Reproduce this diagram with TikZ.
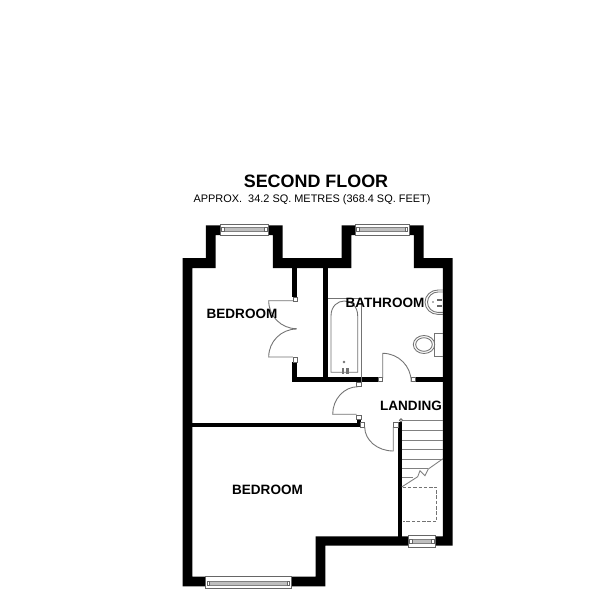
\documentclass[tikz,border=0pt]{standalone}
\usepackage{fontspec}
\setmainfont{Liberation Sans}
\tikzset{
  x=0.02cm,y=-0.02cm,
  wall/.style={fill=black,draw=none},
  fix/.style={draw=black!55,line width=0.5pt,fill=none},
  jamb/.style={draw=black!60,line width=0.45pt,fill=white},
  winframe/.style={draw=black!60,line width=0.45pt,fill=white},
  winband/.style={draw=black!50,line width=0.3pt,fill=black!25},
  tread/.style={draw=black!50,line width=0.5pt},
  room/.style={font=\bfseries\fontsize{7.7pt}{9pt}\selectfont,text=black,inner sep=0pt},
  title/.style={font=\bfseries\fontsize{10.2pt}{12pt}\selectfont,text=black,inner sep=0pt},
  sub/.style={font=\fontsize{6.22pt}{8pt}\selectfont,text=black,inner sep=0pt},
}
\begin{document}
\begin{tikzpicture}
\useasboundingbox (0,0) rectangle (600,600);
\fill[white] (0,0) rectangle (600,600);
% outer walls
\fill[wall,even odd rule]
 (182.7,258)--(206,258)--(206,225.3)--(282.7,225.3)--(282.7,258)--(341.7,258)--(341.7,225.3)--(423.7,225.3)--(423.7,258)--(452.7,258)--(452.7,545.7)--(325.3,545.7)--(325.3,586.3)--(182.7,586.3)--cycle
 (192.3,268)--(215.7,268)--(215.7,235)--(273,235)--(273,268)--(351.3,268)--(351.3,235)--(414,235)--(414,268)--(443,268)--(443,536.3)--(315.7,536.3)--(315.7,576.7)--(192.3,576.7)--cycle;
% partitions
\fill[wall] (292.3,268) rectangle (297.3,297);
\fill[wall] (292.3,362) rectangle (297.3,382);
\fill[wall] (292.3,377.3) rectangle (378,382);
\fill[wall] (416,377.3) rectangle (443,382);
\fill[wall] (323,268) rectangle (327.7,377.3);
\fill[wall] (192.3,422.7) rectangle (360,427.3);
\fill[wall] (356.7,419) rectangle (361,423);
\fill[wall] (398,422) rectangle (401.7,536.7);
% windows
\foreach \xa/\xb/\ya/\yb in {220/268.7/224.3/235, 355.3/409.3/224.3/235}{
  \draw[winframe] (\xa,\ya) rectangle (\xb,\yb);
  \draw[winband] (\xa+3,\ya+3) rectangle (\xb-3,\ya+7.2);
  \draw[jamb] (\xa+1.5,\ya+3) rectangle (\xa+4,\ya+7.2);
  \draw[jamb] (\xb-4,\ya+3) rectangle (\xb-1.5,\ya+7.2);
}
\draw[winframe] (408.3,535.7) rectangle (435,547.3);
\draw[winband] (411,539) rectangle (432.5,543.5);
\draw[jamb] (409.5,539) rectangle (412,543.5);
\draw[jamb] (431.5,539) rectangle (434,543.5);
\draw[winframe] (205.3,576.7) rectangle (291,588);
\draw[winband] (208.5,581.5) rectangle (288,585.5);
\draw[jamb] (207,581.5) rectangle (209.5,585.5);
\draw[jamb] (287,581.5) rectangle (289.5,585.5);
% door jambs
\foreach \xa/\ya in {293/297,293/357.7,378/377.3,411/377.3,356.5/382,356.7/415,360/422.5,393.3/422.5}{
  \draw[jamb] (\xa,\ya) rectangle (\xa+4.6,\ya+4.5);
}
% bedroom double door
\draw[fix] (293,300.7) -- (268.7,300.7) arc[start angle=180,end angle=90,radius=28];
\draw[fix] (293,357) -- (268.7,357) arc[start angle=180,end angle=270,radius=28];
% bath
\draw[fix] (327.7,298) -- (361.6,298) -- (361.6,382);
\draw[fix] (331,372.3) -- (331,316) .. controls (331,296) and (357.7,296) .. (357.7,316) -- (357.7,372.3) -- cycle;
\draw[fix] (344,362) circle (0.8);
\foreach \tx in {342,346.5}{\draw[fix,fill=black!55] (\tx,368) rectangle (\tx+1.5,373);}
% basin
\draw[fix] (443,290) -- (438,290) arc[start angle=-90,end angle=-270,x radius=13,y radius=12.2] -- (443,314.4);
\draw[fix] (443,292) -- (438,292) arc[start angle=-90,end angle=-270,x radius=10.5,y radius=10.2] -- (443,312.4);
\fill[black!60] (433,302) circle (0.8);
\fill[black!60] (437,299.3) rectangle (442,301);
\fill[black!60] (437,305) rectangle (442,306.7);
% toilet
\draw[fix] (443,333) -- (434.3,333) -- (434.3,356.7) -- (443,356.7);
\draw[fix] (424,344.5) ellipse (10.7 and 9);
\draw[fix] (424,344.5) ellipse (8.3 and 6.8);
% bathroom door
\draw[fix] (382.7,378) -- (382.7,353.3) arc[start angle=-90,end angle=0,radius=28.5];
% landing door (upper)
\draw[fix] (358,386.7) arc[start angle=-90,end angle=-180,x radius=25.3,y radius=27.6] -- (356.7,414.3);
% landing door (lower)
\draw[fix] (364.7,427) arc[start angle=180,end angle=90,x radius=28.6,y radius=24] -- (393.3,427);
% stairs
\foreach \sy in {430.3,440,449.3,459}{\draw[tread] (401.7,\sy) -- (443,\sy);}
\draw[tread] (401.7,420.7) -- (443,420.7);
\draw[tread] (401.7,468.5) -- (428,468.5);
\draw[tread] (401.7,477.8) -- (413,477.8);
\draw[tread] (443,458.7) -- (428.3,469) -- (425,475.7) -- (420,470.7) -- (417.7,476.7) -- (401.7,487);
\draw[jamb] (401,420.3) circle (1.6);
\draw[fix,dash pattern=on 2pt off 1pt] (402.7,487.3) -- (436.7,487.3) -- (436.7,521.3) -- (402.7,521.3);
% text
\node[title] (t1) at (316,181.5) {SECOND FLOOR};
\node[sub] (t2) at (312,199.5) {APPROX.\ \ 34.2 SQ. METRES (368.4 SQ. FEET)};
\node[room] (r1) at (242,313.5) {BEDROOM};
\node[room] (r2) at (385,303) {BATHROOM};
\node[room] (r3) at (411,405.5) {LANDING};
\node[room] (r4) at (267.5,489.5) {BEDROOM};
\end{tikzpicture}
\end{document}
